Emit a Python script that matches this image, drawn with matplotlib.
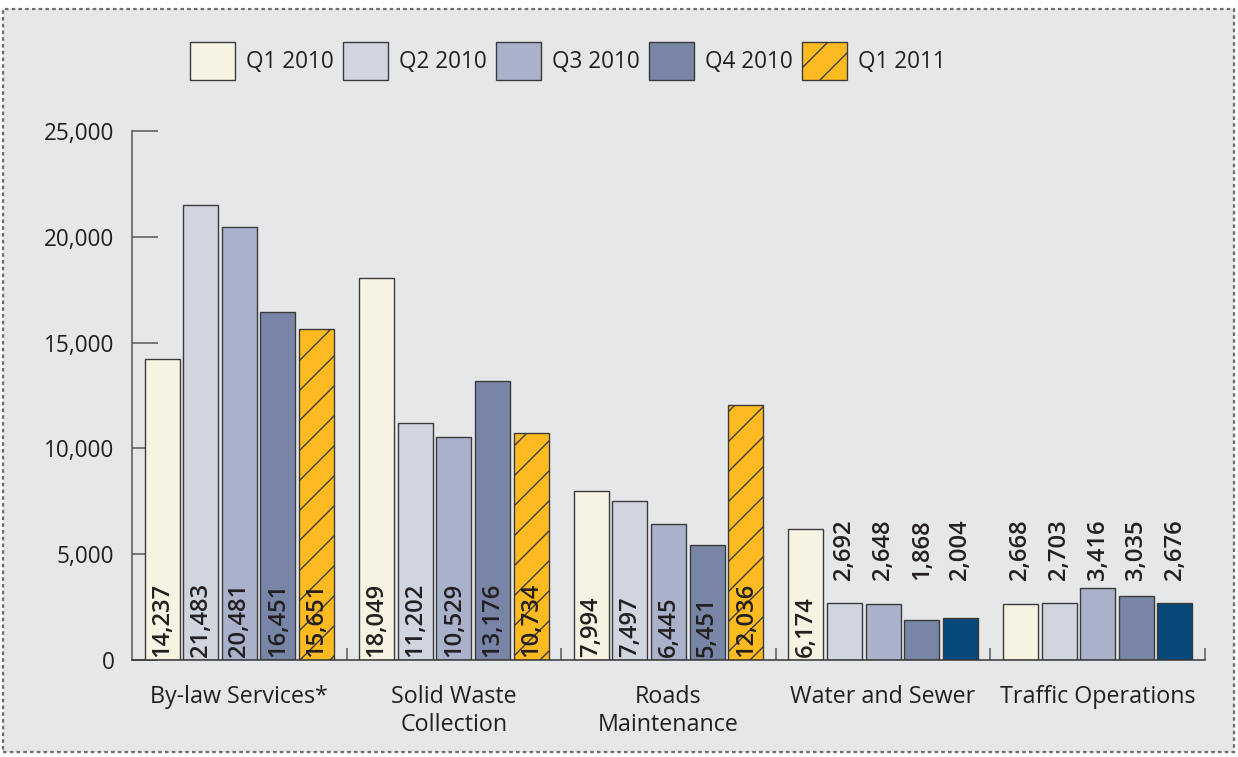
import numpy as np
import matplotlib
matplotlib.use('Agg')
import matplotlib.pyplot as plt
from matplotlib.patches import Rectangle

plt.rcParams['font.family'] = ['Open Sans', 'DejaVu Sans']
plt.rcParams['hatch.linewidth'] = 0.55

# service requests by quarter
categories = ['By-law Services*', 'Solid Waste\nCollection', 'Roads\nMaintenance',
              'Water and Sewer', 'Traffic Operations']
quarters = ['Q1 2010', 'Q2 2010', 'Q3 2010', 'Q4 2010', 'Q1 2011']
q1_2010 = [14237, 18049, 7994, 6174, 2668]
q2_2010 = [21483, 11202, 7497, 2692, 2703]
q3_2010 = [20481, 10529, 6445, 2648, 3416]
q4_2010 = [16451, 13176, 5451, 1868, 3035]
q1_2011 = [15651, 10734, 12036, 2004, 2676]
series = [q1_2010, q2_2010, q3_2010, q4_2010, q1_2011]

colors = ['#f6f3e3', '#d1d5e0', '#aab1ca', '#7885a7', '#fdbb21']
navy = '#05497a'
edge = '#3a3a3a'
text_col = '#231f20'

dpi = 180
fig = plt.figure(figsize=(1238 / dpi, 757 / dpi), dpi=dpi)
fig.patch.set_facecolor('white')

# grey panel with dashed border
panel = Rectangle((3 / 1238, 5 / 757), 1231 / 1238, 743 / 757,
                  transform=fig.transFigure, facecolor='#e6e7e9',
                  edgecolor='#6d6d6d', linewidth=0.9, linestyle=(0, (1.6, 1.4)),
                  zorder=-1)
fig.patches.append(panel)

ax = fig.add_axes([132 / 1238, 1 - 660 / 757, (1205 - 132) / 1238, (660 - 131) / 757])
ax.set_zorder(1)
ax.set_facecolor('none')
ax.set_axisbelow(True)

x = np.arange(len(categories)) + 0.5
step = 0.18
width = 0.163

for i, (vals, q) in enumerate(zip(series, quarters)):
    pos = x + (i - 2) * step
    bars = ax.bar(pos, vals, width, color=colors[i], edgecolor=edge,
                  linewidth=0.55, label=q, zorder=2)
    if q == 'Q1 2011':
        # last two services shown in solid navy
        for j, b in enumerate(bars):
            if j >= 3:
                b.set_facecolor(navy)
            else:
                b.set_hatch('//')
    for px, v in zip(pos, vals):
        if v > 4000:
            ax.text(px, 150, f'{v:,}', rotation=90, ha='center', va='bottom',
                    fontsize=9.5, fontweight='semibold', color=text_col, zorder=3)
        else:
            ax.text(px, 3780, f'{v:,}', rotation=90, ha='center', va='bottom',
                    fontsize=9.5, fontweight='semibold', color=text_col, zorder=3)

ax.set_xlim(0, 5)
ax.set_ylim(0, 25000)
ax.set_yticks(np.arange(0, 25001, 5000))
ax.set_yticklabels([f'{v:,}' for v in range(0, 25001, 5000)])
ax.set_xticks(x)
ax.set_xticklabels(categories)
ax.set_xticks(np.arange(1, 6), minor=True)

ax.tick_params(axis='y', direction='in', length=10.4, width=0.6, colors='#555555',
               labelcolor=text_col, labelsize=9, pad=7)
ax.tick_params(axis='x', which='major', length=0, labelcolor=text_col,
               labelsize=9.3, pad=10)
ax.tick_params(axis='x', which='minor', direction='in', length=4.8, width=0.6,
               colors='#555555')

for s in ['top', 'right']:
    ax.spines[s].set_visible(False)
ax.spines['left'].set_color('#555555')
ax.spines['left'].set_linewidth(0.6)
ax.spines['bottom'].set_color('#333333')
ax.spines['bottom'].set_linewidth(0.6)

ax.legend(loc='center left', bbox_to_anchor=(190 / 1238, 1 - 61 / 757),
          bbox_transform=fig.transFigure, ncol=5, frameon=False, fontsize=9,
          handlelength=2.0, handleheight=2.2, handletextpad=0.5,
          columnspacing=0.4, borderpad=0, borderaxespad=0, labelcolor=text_col)

fig.savefig('out.png', dpi=dpi, facecolor=fig.get_facecolor())
